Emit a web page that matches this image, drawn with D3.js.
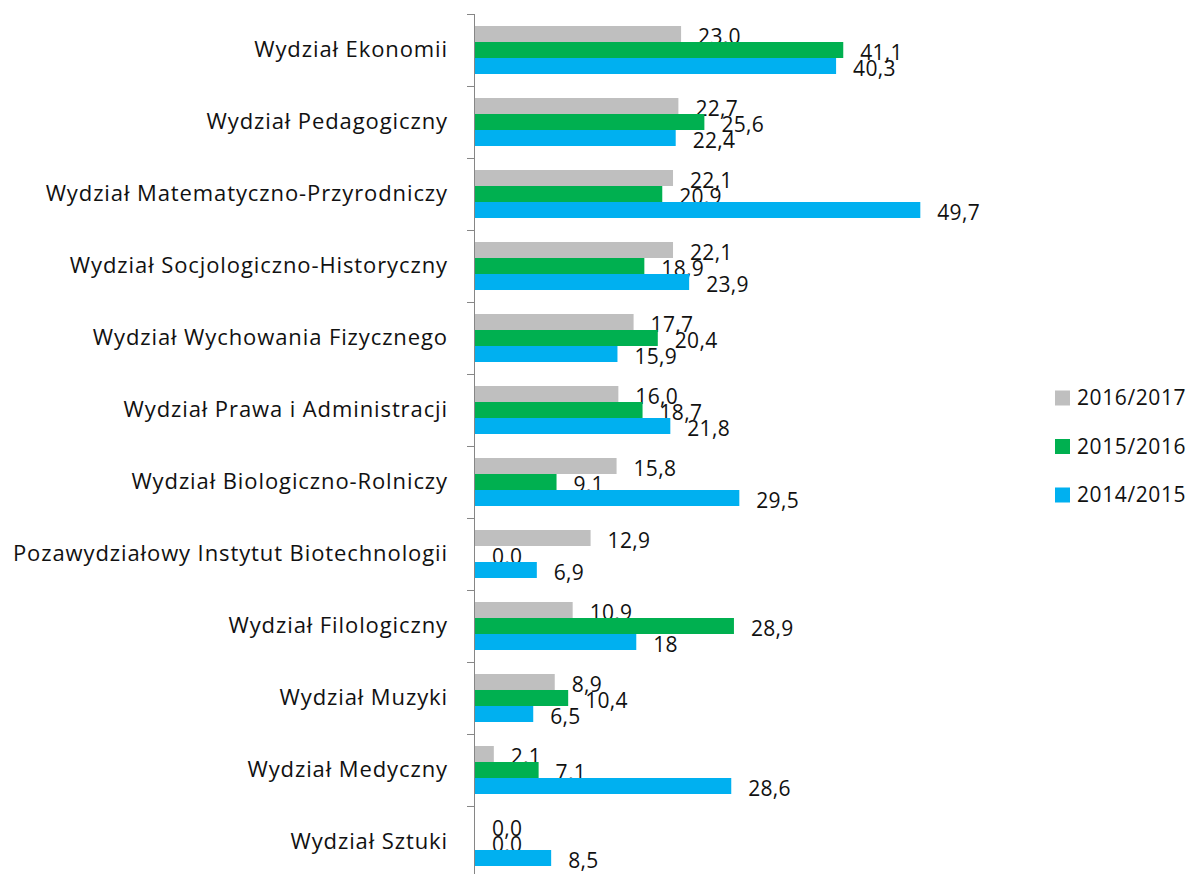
<!DOCTYPE html>
<html>
<head>
<meta charset="utf-8">
<script src="https://d3js.org/d3.v7.min.js"></script>
<style>
  body { margin: 0; background: #fff; }
  text { font-family: "Open Sans", Lato, sans-serif; fill: #111; }
</style>
</head>
<body>
<div id="chart"></div>
<script>
// kategorie (od góry)
let categories = [
  "Wydział Ekonomii",
  "Wydział Pedagogiczny",
  "Wydział Matematyczno-Przyrodniczy",
  "Wydział Socjologiczno-Historyczny",
  "Wydział Wychowania Fizycznego",
  "Wydział Prawa i Administracji",
  "Wydział Biologiczno-Rolniczy",
  "Pozawydziałowy Instytut Biotechnologii",
  "Wydział Filologiczny",
  "Wydział Muzyki",
  "Wydział Medyczny",
  "Wydział Sztuki"
];
let seriesNames = ["2016/2017", "2015/2016", "2014/2015"];
let v2016 = [23.0, 22.7, 22.1, 22.1, 17.7, 16.0, 15.8, 12.9, 10.9, 8.9, 2.1, 0.0];
let v2015 = [41.1, 25.6, 20.9, 18.9, 20.4, 18.7, 9.1, 0.0, 28.9, 10.4, 7.1, 0.0];
let v2014 = [40.3, 22.4, 49.7, 23.9, 15.9, 21.8, 29.5, 6.9, 18, 6.5, 28.6, 8.5];
// etykiety tak jak w oryginale (18 bez miejsca po przecinku)
let l2014 = ["40,3", "22,4", "49,7", "23,9", "15,9", "21,8", "29,5", "6,9", "18", "6,5", "28,6", "8,5"];
let colors = ["#bfbfbf", "#00b050", "#00b0f0"];

let width = 1192, height = 874;

let svg = d3.select("#chart").append("svg")
    .attr("width", width)
    .attr("height", height);

let fmt = d => d.toFixed(1).replace(".", ",");

let series = [
  {name: seriesNames[0], values: v2016, labels: v2016.map(fmt)},
  {name: seriesNames[1], values: v2015, labels: v2015.map(fmt)},
  {name: seriesNames[2], values: v2014, labels: l2014}
];

let x = d3.scaleLinear().domain([0, 50]).range([475, 923]);
let y = d3.scaleBand().domain(categories).range([14, 878]).paddingInner(0.3333).paddingOuter(0.1667);
let ySub = d3.scaleBand().domain(seriesNames).range([0, y.bandwidth()]);

// słupki
series.forEach(function(s, si) {
  let g = svg.append("g");
  g.selectAll("rect")
    .data(categories)
    .enter()
    .append("rect")
      .attr("x", x(0))
      .attr("y", (c) => y(c) + ySub(s.name))
      .attr("width", (c, i) => x(s.values[i]) - x(0))
      .attr("height", ySub.bandwidth())
      .attr("fill", colors[si]);
  g.selectAll("text")
    .data(categories)
    .enter()
    .append("text")
      .attr("x", (c, i) => x(s.values[i]) + 17)
      .attr("y", (c) => y(c) + ySub(s.name) + ySub.bandwidth() / 2 + 10)
      .attr("font-size", "21px")
      .attr("letter-spacing", "0.3px")
      .text((c, i) => s.labels[i]);
});

// oś kategorii
let step = y.step();
let axis = svg.append("g");
axis.append("line")
  .attr("x1", 474.5).attr("x2", 474.5)
  .attr("y1", 14).attr("y2", 874)
  .attr("stroke", "#868686").attr("stroke-width", 1);
axis.selectAll(".tick")
  .data(d3.range(categories.length + 1))
  .enter()
  .append("line")
    .attr("x1", 467).attr("x2", 474.5)
    .attr("y1", (i) => 14.5 + i * step)
    .attr("y2", (i) => 14.5 + i * step)
    .attr("stroke", "#868686");
axis.selectAll("text")
  .data(categories)
  .enter()
  .append("text")
    .attr("x", 448)
    .attr("y", (c) => y(c) + y.bandwidth() / 2 + 7)
    .attr("text-anchor", "end")
    .attr("font-size", "22px")
    .attr("letter-spacing", "0.9px")
    .text((c) => c);

// legenda
let legend = svg.append("g");
series.forEach(function(s, i) {
  let ly = 398 + i * 48.5;
  legend.append("rect")
    .attr("x", 1055).attr("y", ly - 7.5)
    .attr("width", 15).attr("height", 15)
    .attr("fill", colors[i]);
  legend.append("text")
    .attr("x", 1077).attr("y", ly + 7)
    .attr("font-size", "21px")
    .attr("letter-spacing", "0.6px")
    .text(s.name);
});
</script>
</body>
</html>
